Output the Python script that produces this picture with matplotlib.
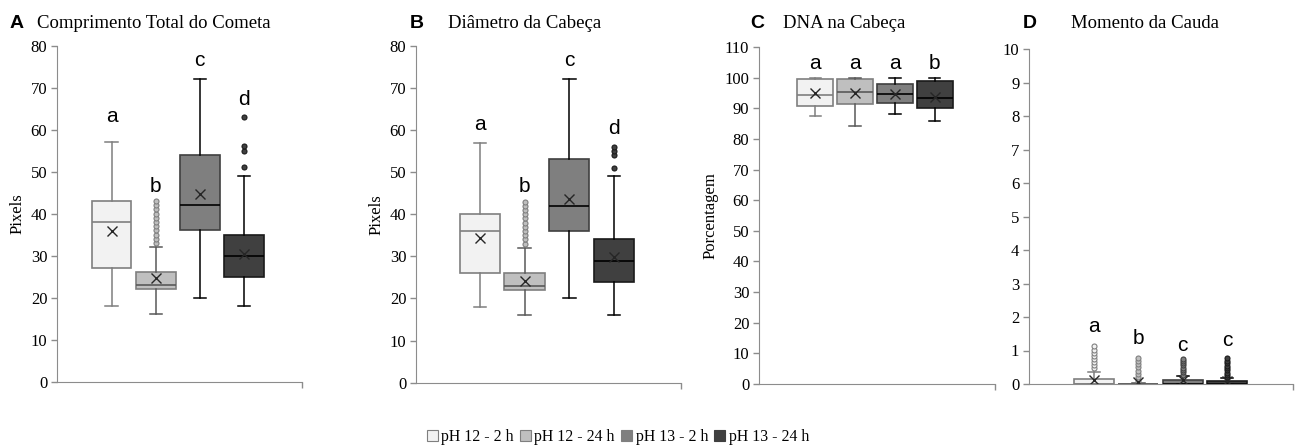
import matplotlib
matplotlib.use('Agg')
import matplotlib.pyplot as plt
from matplotlib.patches import Patch

groups = ['pH 12 - 2 h', 'pH 12 - 24 h', 'pH 13 - 2 h', 'pH 13 - 24 h']

# Panel A - Comprimento Total do Cometa
A_whislo = [18, 16, 20, 18]
A_q1 = [27, 22, 36, 25]
A_med = [38, 23, 42, 30]
A_q3 = [43, 26, 54, 35]
A_whishi = [57, 32, 72, 49]
A_mean = [35.8, 24.6, 44.8, 30.3]
A_fliers = [[], [33, 34, 35, 36, 37, 38, 39, 40, 41, 42, 43], [], [51, 55, 56, 63]]
A_letters = ['a', 'b', 'c', 'd']
A_letter_y = [63.2, 46.5, 76.4, 67.1]

# Panel B - Diâmetro da Cabeça
B_whislo = [18, 16, 20, 16]
B_q1 = [26, 22, 36, 24]
B_med = [36, 23, 42, 29]
B_q3 = [40, 26, 53, 34]
B_whishi = [57, 32, 72, 49]
B_mean = [34.4, 24.2, 43.7, 29.8]
B_fliers = [[], [33, 34, 35, 36, 37, 38, 39, 40, 41, 42, 43], [], [51, 54, 55, 56]]
B_letters = ['a', 'b', 'c', 'd']
B_letter_y = [61.2, 46.6, 76.4, 60.4]

# Panel C - DNA na Cabeça
C_whislo = [87.5, 84.3, 88.2, 86.0]
C_q1 = [90.9, 91.3, 91.8, 90.2]
C_med = [94.2, 95.2, 94.6, 93.4]
C_q3 = [99.5, 99.5, 97.8, 98.9]
C_whishi = [100, 100, 100, 100]
C_mean = [94.9, 95.0, 94.8, 93.8]
C_fliers = [[], [], [], []]
C_letters = ['a', 'a', 'a', 'b']
C_letter_y = [104.7, 104.7, 104.7, 104.7]

# Panel D - Momento da Cauda
D_whislo = [0, 0, 0, 0]
D_q1 = [0, 0, 0, 0]
D_med = [0.01, 0.0, 0.01, 0.01]
D_q3 = [0.14, 0.01, 0.11, 0.09]
D_whishi = [0.36, 0.03, 0.23, 0.17]
D_mean = [0.12, 0.05, 0.12, 0.10]
D_fliers = [[0.48, 0.57, 0.66, 0.75, 0.84, 0.93, 1.02, 1.12],
            [0.10, 0.20, 0.30, 0.40, 0.50, 0.60, 0.70, 0.79],
            [0.28, 0.35, 0.42, 0.49, 0.56, 0.63, 0.70, 0.74],
            [0.20, 0.27, 0.34, 0.41, 0.48, 0.55, 0.62, 0.70, 0.78]]
D_letters = ['a', 'b', 'c', 'c']
D_letter_y = [1.71, 1.36, 1.16, 1.31]

fills = ['#f2f2f2', '#bfbfbf', '#7f7f7f', '#404040']
edges = ['#7f7f7f', '#7f7f7f', '#404040', '#1a1a1a']
lines = ['#7f7f7f', '#595959', '#000000', '#000000']

SERIF = ['Liberation Serif', 'DejaVu Serif']
SANS = ['Liberation Sans', 'DejaVu Sans']

W, H = 1295, 448
fig = plt.figure(figsize=(W / 100, H / 100), dpi=100)


def px_axes(left, right, top, bottom):
    return fig.add_axes([left / W, 1 - bottom / H, (right - left) / W, (bottom - top) / H])


def draw(ax, whislo, q1, med, q3, whishi, mean, fliers, letters, letter_y,
         ylim, yticks, xlim, ylabel, labelpad):
    stats = []
    for i in range(len(groups)):
        stats.append(dict(whislo=whislo[i], q1=q1[i], med=med[i], q3=q3[i],
                          whishi=whishi[i], mean=mean[i], fliers=fliers[i], label=groups[i]))
    pos = list(range(1, len(groups) + 1))
    art = ax.bxp(stats, positions=pos, widths=0.9, capwidths=0.28, patch_artist=True,
                 showmeans=True, meanline=False, manage_ticks=False)
    for i in range(len(groups)):
        b = art['boxes'][i]
        b.set_facecolor(fills[i]); b.set_edgecolor(edges[i]); b.set_linewidth(1.2)
        for w in art['whiskers'][2 * i:2 * i + 2]:
            w.set_color(lines[i]); w.set_linewidth(1.1)
        for c in art['caps'][2 * i:2 * i + 2]:
            c.set_color(lines[i]); c.set_linewidth(1.1)
        art['medians'][i].set_color(lines[i]); art['medians'][i].set_linewidth(1.2)
        art['means'][i].set(marker='x', markeredgecolor='#262626', markerfacecolor='#262626',
                            markersize=6.5, markeredgewidth=1.0)
        art['fliers'][i].set(marker='o', markerfacecolor=fills[i], markeredgecolor=edges[i],
                             markersize=3.6, markeredgewidth=0.8)
        ax.text(pos[i], letter_y[i], letters[i], ha='center', va='center',
                fontsize=15, family=SANS, color='#000000')
    ax.set_ylim(*ylim)
    ax.set_xlim(*xlim)
    ax.set_yticks(yticks)
    ax.set_yticklabels([str(t) for t in yticks], family=SERIF, fontsize=12)
    ax.set_xticks([xlim[1]])
    ax.set_xticklabels([''])
    for s in ['top', 'right']:
        ax.spines[s].set_visible(False)
    ax.spines['left'].set_color('#8c8c8c')
    ax.spines['bottom'].set_color('#8c8c8c')
    ax.tick_params(axis='both', direction='out', length=4, color='#8c8c8c', width=1, pad=3)
    if ylabel:
        ax.set_ylabel(ylabel, family=SERIF, fontsize=12, labelpad=labelpad)


axA = px_axes(57, 302, 45.7, 381.7)
draw(axA, A_whislo, A_q1, A_med, A_q3, A_whishi, A_mean, A_fliers, A_letters, A_letter_y,
     (0, 80), list(range(0, 81, 10)), (1 - 1.24, 4 + 1.32), 'Pixels', 4)

axB = px_axes(416, 681, 45.7, 382.7)
draw(axB, B_whislo, B_q1, B_med, B_q3, B_whishi, B_mean, B_fliers, B_letters, B_letter_y,
     (0, 80), list(range(0, 81, 10)), (1 - 1.43, 4 + 1.5), 'Pixels', 4)

axC = px_axes(759, 995, 47, 384)
draw(axC, C_whislo, C_q1, C_med, C_q3, C_whishi, C_mean, C_fliers, C_letters, C_letter_y,
     (0, 110), list(range(0, 111, 10)), (1 - 1.41, 4 + 1.51), 'Porcentagem', 4)

axD = px_axes(1029, 1293, 49, 384)
draw(axD, D_whislo, D_q1, D_med, D_q3, D_whishi, D_mean, D_fliers, D_letters, D_letter_y,
     (0, 10), list(range(0, 11, 1)), (1 - 1.47, 4 + 1.49), None, 0)

# Panel letters and titles
panel_info = [('A', 10, 'Comprimento Total do Cometa', 37),
              ('B', 410, 'Diâmetro da Cabeça', 448),
              ('C', 750, 'DNA na Cabeça', 783),
              ('D', 1023, 'Momento da Cauda', 1071)]
for letter, lx, title, tx in panel_info:
    fig.text(lx / W, 1 - 24 / H, letter, family=SANS, fontweight='bold', fontsize=14,
             ha='left', va='center')
    fig.text(tx / W, 1 - 23 / H, title, family=SERIF, fontsize=13.5, ha='left', va='center')

handles = [Patch(facecolor=fills[i], edgecolor=edges[i] if i < 2 else fills[i], linewidth=0.8)
           for i in range(len(groups))]
fig.legend(handles, groups, loc='center', bbox_to_anchor=(618 / W, 1 - 437 / H), ncol=4,
           frameon=False, prop={'family': SERIF, 'size': 11.4}, handlelength=0.7,
           handleheight=0.7, handletextpad=0.2, columnspacing=0.4, borderpad=0)

fig.savefig('out.png', dpi=100)
